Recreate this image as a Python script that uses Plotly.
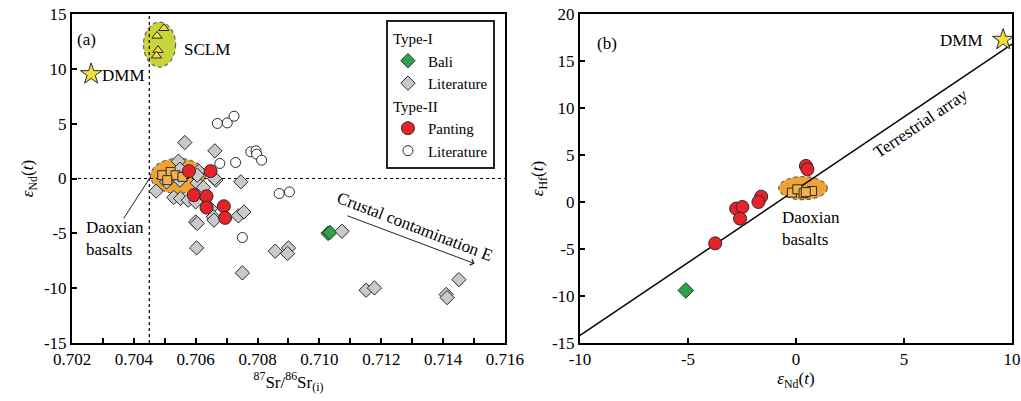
import plotly.graph_objects as go

FONT = "Liberation Serif"

# ---------------- Panel (a): Sr vs Nd ----------------
dmm_a = ([0.70262], [9.52])
sclm_x = [0.70497, 0.70475, 0.70478, 0.70473]
sclm_y = [13.7, 13.0, 11.7, 11.2]

bali_a_x = [0.71028, 0.71034]
bali_a_y = [-5.00, -4.92]

lit1_x = [0.70565, 0.70662, 0.70544, 0.70549, 0.70610, 0.70665, 0.70549, 0.70472,
          0.70746, 0.70605, 0.70625, 0.70529, 0.70551, 0.70576, 0.70600, 0.70648,
          0.70657, 0.70659, 0.70738, 0.70756, 0.70600, 0.70605, 0.70603, 0.70751,
          0.70857, 0.70900, 0.70897, 0.71073, 0.71151, 0.71178, 0.71451, 0.71410,
          0.71413, 0.70506, 0.70605, 0.70661]
lit1_y = [3.28, 2.52, 1.58, 0.85, 0.67, -0.15, -0.15, -1.15,
          -0.30, -0.40, -0.82, -1.73, -1.82, -1.98, -2.13, -2.74,
          -3.50, -3.80, -3.41, -3.05, -3.96, -4.10, -6.33, -8.61,
          -6.63, -6.33, -6.84, -4.81, -10.19, -9.98, -9.22, -10.58,
          -10.86, -0.31, 0.30, 0.0]

pant_a_x = [0.70578, 0.70648, 0.70594, 0.70635, 0.70635, 0.70691, 0.70695]
pant_a_y = [0.67, 0.67, -1.52, -1.61, -2.65, -2.53, -3.59]

lit2_x = [0.70670, 0.70702, 0.70724, 0.70778, 0.70795, 0.70797, 0.70813,
          0.70678, 0.70729, 0.70870, 0.70903, 0.70751]
lit2_y = [5.02, 5.07, 5.68, 2.43, 2.52, 2.22, 1.67, 1.37, 1.46, -1.37, -1.22, -5.38]

dao_a_x = [0.70492, 0.70519, 0.70535, 0.70508, 0.70557]
dao_a_y = [0.30, 0.60, 0.30, -0.15, 0.15]

# ---------------- Panel (b): Nd vs Hf ----------------
dmm_b = ([9.59], [17.26])
pant_b_x = [0.46, 0.53, -1.61, -1.74, -2.77, -2.48, -2.59, -3.74]
pant_b_y = [3.84, 3.48, 0.57, 0.0, -0.70, -0.53, -1.77, -4.40]
bali_b_x = [-5.10]
bali_b_y = [-9.41]
dao_b_x = [-0.19, 0.06, 0.35, 0.74, 0.45]
dao_b_y = [1.00, 1.35, 0.93, 1.17, 1.05]

array_x = [-10, 10]
array_slope, array_icpt = 1.55, 1.3
array_y = [array_slope * v + array_icpt for v in array_x]

# tick labels
xa_ticks = [0.702, 0.704, 0.706, 0.708, 0.710, 0.712, 0.714, 0.716]
xa_text = ["0.702", "0.704", "0.706", "0.708", "0.710", "0.712", "0.714", "0.716"]
ya_ticks = [-15, -10, -5, 0, 5, 10, 15]
ya_text = ["-15", "-10", "-5", "0", "5", "10", "15"]
xb_ticks = [-10, -5, 0, 5, 10]
xb_text = ["-10", "-5", "0", "5", "10"]
yb_ticks = [-15, -10, -5, 0, 5, 10, 15, 20]
yb_text = ["-15", "-10", "-5", "0", "5", "10", "15", "20"]

# ellipse regions [x0, x1, y0, y1]
sclm_region = [0.70431, 0.70535, 10.16, 14.26]
dao_region_a = [0.70454, 0.70632, -1.37, 1.83]
dao_region_b = [-0.80, 1.45, 0.25, 2.70]

RED = "#e8222a"
GREEN = "#2ea44a"
GREY = "#c9c9c9"
ORANGE = "#f0a232"
SQ = "#f2b24e"
YEL = "#efe23c"
EDGE = "#2a2a2a"

fig = go.Figure()

def mk(symbol, color, size, lw=1.0):
    return dict(symbol=symbol, color=color, size=size, line=dict(color=EDGE, width=lw))

# panel a
fig.add_trace(go.Scatter(x=bali_a_x, y=bali_a_y, mode="markers", name="Bali",
                         legendgroup="I", legendgrouptitle_text="Type-I",
                         marker=mk("diamond", GREEN, 11), xaxis="x", yaxis="y"))
fig.add_trace(go.Scatter(x=lit1_x, y=lit1_y, mode="markers", name="Literature",
                         legendgroup="I", legendgrouptitle_text="Type-I",
                         marker=mk("diamond", GREY, 11), xaxis="x", yaxis="y"))
fig.add_trace(go.Scatter(x=dao_a_x, y=dao_a_y, mode="markers", showlegend=False,
                         marker=mk("square", SQ, 9), xaxis="x", yaxis="y"))
fig.add_trace(go.Scatter(x=pant_a_x, y=pant_a_y, mode="markers", name="Panting",
                         legendgroup="II", legendgrouptitle_text="Type-II",
                         marker=mk("circle", RED, 13), xaxis="x", yaxis="y"))
fig.add_trace(go.Scatter(x=lit2_x, y=lit2_y, mode="markers", name="Literature",
                         legendgroup="II", legendgrouptitle_text="Type-II",
                         marker=mk("circle", "white", 10), xaxis="x", yaxis="y"))
fig.add_trace(go.Scatter(x=sclm_x, y=sclm_y, mode="markers", showlegend=False,
                         marker=mk("triangle-up", YEL, 9), xaxis="x", yaxis="y"))
fig.add_trace(go.Scatter(x=dmm_a[0], y=dmm_a[1], mode="markers", showlegend=False,
                         marker=mk("star", YEL, 16), xaxis="x", yaxis="y"))

# panel b
fig.add_trace(go.Scatter(x=array_x, y=array_y, mode="lines", showlegend=False,
                         line=dict(color="black", width=1.5), xaxis="x2", yaxis="y2"))
fig.add_trace(go.Scatter(x=dao_b_x, y=dao_b_y, mode="markers", showlegend=False,
                         marker=mk("square", SQ, 9), xaxis="x2", yaxis="y2"))
fig.add_trace(go.Scatter(x=pant_b_x, y=pant_b_y, mode="markers", showlegend=False,
                         marker=mk("circle", RED, 13), xaxis="x2", yaxis="y2"))
fig.add_trace(go.Scatter(x=bali_b_x, y=bali_b_y, mode="markers", showlegend=False,
                         marker=mk("diamond", GREEN, 12), xaxis="x2", yaxis="y2"))
fig.add_trace(go.Scatter(x=dmm_b[0], y=dmm_b[1], mode="markers", showlegend=False,
                         marker=mk("star", YEL, 16), xaxis="x2", yaxis="y2"))

shapes = []
def ell(reg, fill, xr, yr):
    return dict(type="circle", xref=xr, yref=yr, x0=reg[0], x1=reg[1], y0=reg[2], y1=reg[3],
                fillcolor=fill, line=dict(color="#666", width=1.2, dash="4px,3px"), layer="below")
shapes.append(ell(sclm_region, "#c9d33c", "x", "y"))
shapes.append(ell(dao_region_a, ORANGE, "x", "y"))
shapes.append(ell(dao_region_b, ORANGE, "x2", "y2"))
shapes.append(dict(type="line", xref="x", yref="y", x0=0.7045, x1=0.7045, y0=-15, y1=15,
                   line=dict(color="black", width=1.2, dash="3px,3px"), layer="below"))
shapes.append(dict(type="line", xref="x", yref="y", x0=0.702, x1=0.716, y0=0, y1=0,
                   line=dict(color="black", width=1.2, dash="3px,3px"), layer="below"))
shapes.append(dict(type="line", xref="x", yref="y", x0=0.70367, y0=-3.65, x1=0.70454, y1=0.15,
                   line=dict(color="#222", width=1)))

tf = dict(family=FONT, size=17, color="black")
lf = dict(family=FONT, size=15, color="black")
ann = [
    dict(text="(a)", xref="x domain", yref="y domain", x=0.007, y=0.957, xanchor="left",
         showarrow=False, font=tf),
    dict(text="(b)", xref="x2 domain", yref="y2 domain", x=0.035, y=0.946, xanchor="left",
         showarrow=False, font=tf),
    dict(text="DMM", xref="x", yref="y", x=0.70292, y=9.4, xanchor="left", showarrow=False, font=tf),
    dict(text="SCLM", xref="x", yref="y", x=0.70557, y=11.8, xanchor="left", showarrow=False, font=tf),
    dict(text="Daoxian<br>basalts", xref="x", yref="y", x=0.70240, y=-5.45, xanchor="left",
         align="left", showarrow=False, font=tf),
    dict(text="Crustal contamination E", xref="x", yref="y", x=0.71307, y=-4.42,
         textangle=21, showarrow=False, font=tf),
    dict(text="", xref="x", yref="y", x=0.71502, y=-7.76, axref="x", ayref="y",
         ax=0.71086, ay=-3.35, showarrow=True, arrowhead=4, arrowsize=1.2, arrowwidth=1,
         arrowcolor="#222"),
    dict(text="DMM", xref="x2", yref="y2", x=8.77, y=17.2, xanchor="right", showarrow=False, font=tf),
    dict(text="Terrestrial array", xref="x2", yref="y2", x=5.76, y=8.39, textangle=-34,
         showarrow=False, font=tf),
    dict(text="Daoxian<br>basalts", xref="x2", yref="y2", x=-0.73, y=-2.85, xanchor="left",
         align="left", showarrow=False, font=tf),
]

axis_common = dict(showline=True, linecolor="black", linewidth=2, mirror=True,
                   ticks="inside", ticklen=5, tickwidth=1.5, tickcolor="black",
                   showgrid=False, zeroline=False, tickfont=tf, title_font=tf,
                   automargin=False, tickmode="array")

fig.update_layout(
    width=1021, height=401, margin=dict(l=72, r=9, t=14, b=58),
    paper_bgcolor="white", plot_bgcolor="white",
    font=dict(family=FONT, size=17, color="black"),
    shapes=shapes, annotations=ann,
    xaxis=dict(domain=[0, 0.4606], range=[0.702, 0.716], tickvals=xa_ticks, ticktext=xa_text,
               anchor="y",
               minor=dict(dtick=0.001, tick0=0.702, ticks="inside", ticklen=5, tickwidth=1.5,
                          tickcolor="black"),
               title=dict(text="<sup>87</sup>Sr/<sup>86</sup>Sr<sub>(i)</sub>", standoff=4),
               **axis_common),
    yaxis=dict(range=[-15, 15], tickvals=ya_ticks, ticktext=ya_text, anchor="x",
               title=dict(text="<i>ε</i><sub>Nd</sub>(<i>t</i>)", standoff=6),
               **axis_common),
    xaxis2=dict(domain=[0.5404, 1], range=[-10, 10], tickvals=xb_ticks, ticktext=xb_text,
                anchor="y2",
                title=dict(text="<i>ε</i><sub>Nd</sub>(<i>t</i>)", standoff=4),
                **axis_common),
    yaxis2=dict(range=[-15, 20], tickvals=yb_ticks, ticktext=yb_text, anchor="x2",
                title=dict(text="<i>ε</i><sub>Hf</sub>(<i>t</i>)", standoff=4),
                **axis_common),
    legend=dict(x=0.334, y=0.982, xanchor="left", yanchor="top", bgcolor="white",
                bordercolor="#222", borderwidth=2, font=lf, tracegroupgap=0,
                traceorder="grouped", itemwidth=30,
                grouptitlefont=lf),
)

fig.write_html("out.html")
